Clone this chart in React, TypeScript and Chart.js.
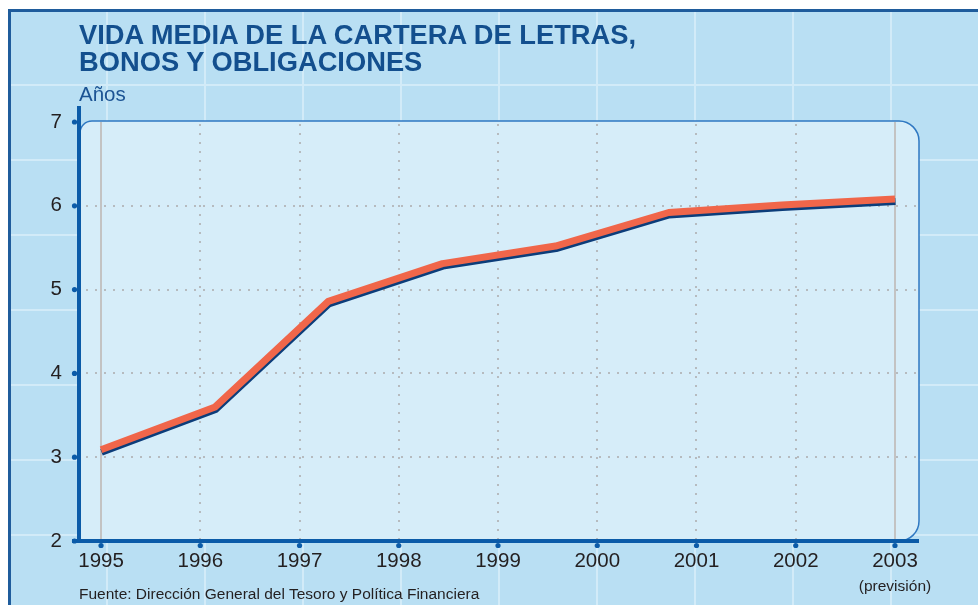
import React, { useEffect, useRef } from "react";
import { Chart, registerables } from "chart.js";

Chart.register(...registerables);

// ---- Data ----
const yearTicks = [1995, 1996, 1997, 1998, 1999, 2000, 2001, 2002, 2003];
const valueTicks = [2, 3, 4, 5, 6, 7];
const pointYears = [1995, 1996.15, 1997.29, 1998.44, 1999.58, 2000.72, 2001.86, 2003];
const averageLife = [3.09, 3.6, 4.86, 5.31, 5.52, 5.92, 6.01, 6.08];
const titleLines = ["VIDA MEDIA DE LA CARTERA DE LETRAS,", "BONOS Y OBLIGACIONES"];
const unitLabel = "Años";
const forecastYear = 2003;
const forecastNote = "(previsión)";
const sourceNote = "Fuente: Dirección General del Tesoro y Política Financiera";

const FONT = '"Liberation Sans", Arial, Helvetica, sans-serif';
const W = 978;
const H = 605;
const X_AXIS_H = 40;

const backgroundPlugin = {
  id: "backgroundPanel",
  beforeDraw(chart: any) {
    const { ctx, chartArea: ca, scales } = chart;
    ctx.save();
    ctx.fillStyle = "#ffffff";
    ctx.fillRect(0, 0, W, H);
    ctx.fillStyle = "#b9dff3";
    ctx.fillRect(8, 9, W - 8, H - 9);
    // tile lines
    ctx.strokeStyle = "#d2ebf8";
    ctx.lineWidth = 2;
    for (let x = 107; x < W; x += 98) {
      ctx.beginPath();
      ctx.moveTo(x, 11);
      ctx.lineTo(x, H);
      ctx.stroke();
    }
    for (let y = 85; y < H; y += 75) {
      ctx.beginPath();
      ctx.moveTo(10, y);
      ctx.lineTo(W, y);
      ctx.stroke();
    }
    // frame border
    ctx.strokeStyle = "#1f5c9c";
    ctx.lineWidth = 3;
    ctx.beginPath();
    ctx.moveTo(9.5, H);
    ctx.lineTo(9.5, 10.5);
    ctx.lineTo(W, 10.5);
    ctx.stroke();

    // rounded panel
    const l = ca.left, r = ca.right, t = ca.top - 1, b = ca.bottom;
    const rTL = 12, rR = 20;
    ctx.beginPath();
    ctx.moveTo(l, b);
    ctx.lineTo(l, t + rTL);
    ctx.arcTo(l, t, l + rTL, t, rTL);
    ctx.lineTo(r - rR, t);
    ctx.arcTo(r, t, r, t + rR, rR);
    ctx.lineTo(r, b - rR);
    ctx.arcTo(r, b, r - rR, b, rR);
    ctx.closePath();
    ctx.fillStyle = "#d6edf9";
    ctx.fill();
    ctx.strokeStyle = "#2f78c2";
    ctx.lineWidth = 1.5;
    ctx.stroke();

    // grid lines
    const xs = scales.x, ys = scales.y;
    ctx.strokeStyle = "#b6bbbf";
    ctx.lineWidth = 2;
    ctx.setLineDash([2, 7]);
    valueTicks.forEach((v) => {
      if (v === valueTicks[0] || v === valueTicks[valueTicks.length - 1]) return;
      const y = Math.round(ys.getPixelForValue(v));
      ctx.beginPath();
      ctx.moveTo(l + 6, y);
      ctx.lineTo(r, y);
      ctx.stroke();
    });
    yearTicks.forEach((v, i) => {
      if (i === 0 || i === yearTicks.length - 1) return;
      const x = Math.round(xs.getPixelForValue(v));
      ctx.beginPath();
      ctx.moveTo(x, t + 3);
      ctx.lineTo(x, b);
      ctx.stroke();
    });
    ctx.setLineDash([]);
    ctx.strokeStyle = "#c3c3c3";
    ctx.lineWidth = 2;
    [yearTicks[0], yearTicks[yearTicks.length - 1]].forEach((v) => {
      const x = Math.round(xs.getPixelForValue(v));
      ctx.beginPath();
      ctx.moveTo(x, t + 1);
      ctx.lineTo(x, b);
      ctx.stroke();
    });
    ctx.restore();
  },
  beforeDatasetsDraw(chart: any) {
    const ctx = chart.ctx;
    ctx.save();
    ctx.shadowColor = "#0c3d7a";
    ctx.shadowOffsetX = 0.5;
    ctx.shadowOffsetY = 2.5;
    ctx.shadowBlur = 0;
  },
  afterDatasetsDraw(chart: any) {
    const { ctx, chartArea: ca, scales } = chart;
    ctx.restore();
    ctx.save();
    const axisColor = "#0b5ba8";
    ctx.strokeStyle = axisColor;
    ctx.fillStyle = axisColor;
    ctx.lineWidth = 4;
    ctx.beginPath();
    ctx.moveTo(ca.left - 1, 106);
    ctx.lineTo(ca.left - 1, ca.bottom + 2);
    ctx.stroke();
    ctx.beginPath();
    ctx.moveTo(72, ca.bottom);
    ctx.lineTo(ca.right, ca.bottom);
    ctx.stroke();
    valueTicks.forEach((v) => {
      const y = scales.y.getPixelForValue(v);
      ctx.beginPath();
      ctx.arc(ca.left - 5.5, y, 2.6, 0, Math.PI * 2);
      ctx.fill();
    });
    yearTicks.forEach((v) => {
      const x = scales.x.getPixelForValue(v);
      ctx.beginPath();
      ctx.arc(x, ca.bottom + 4.5, 2.6, 0, Math.PI * 2);
      ctx.fill();
    });
    ctx.restore();
  },
  afterDraw(chart: any) {
    const { ctx, scales } = chart;
    ctx.save();
    ctx.fillStyle = "#231f20";
    ctx.font = `15.5px ${FONT}`;
    ctx.textAlign = "center";
    ctx.textBaseline = "alphabetic";
    ctx.fillText(forecastNote, scales.x.getPixelForValue(forecastYear), 591);
    ctx.restore();
  },
};

export default function App() {
  const canvasRef = useRef<HTMLCanvasElement | null>(null);

  useEffect(() => {
    if (!canvasRef.current) return;
    const chart = new Chart(canvasRef.current, {
      type: "line",
      data: {
        datasets: [
          {
            label: "Vida media",
            data: pointYears.map((x, i) => ({ x, y: averageLife[i] })),
            borderColor: "#f0664a",
            borderWidth: 7,
            pointRadius: 0,
            tension: 0,
            borderCapStyle: "butt",
            borderJoinStyle: "round",
            clip: false as any,
          },
        ],
      },
      options: {
        responsive: false,
        animation: false,
        devicePixelRatio: 1,
        layout: { padding: { left: 0, top: 122, right: W - 919, bottom: H - 541 - X_AXIS_H } },
        plugins: { legend: { display: false }, tooltip: { enabled: false }, title: { display: false } },
        scales: {
          x: {
            type: "linear",
            min: 1994.788,
            max: 2003.242,
            grid: { display: false, drawTicks: false },
            border: { display: false },
            afterBuildTicks: (s: any) => {
              s.ticks = yearTicks.map((v) => ({ value: v }));
            },
            afterFit: (s: any) => {
              s.height = X_AXIS_H;
            },
            ticks: {
              callback: (v: any) => String(v),
              color: "#231f20",
              font: { family: FONT, size: 20.5 },
              padding: 8,
              maxRotation: 0,
              autoSkip: false,
            },
          },
          y: {
            type: "linear",
            min: 2,
            max: 7,
            grid: { display: false, drawTicks: false },
            border: { display: false },
            afterBuildTicks: (s: any) => {
              s.ticks = valueTicks.map((v) => ({ value: v }));
            },
            afterFit: (s: any) => {
              s.width = 80;
            },
            ticks: {
              callback: (v: any) => String(v),
              color: "#231f20",
              font: { family: FONT, size: 20.5 },
              padding: 18,
            },
          },
        },
      },
      plugins: [backgroundPlugin],
    });
    return () => chart.destroy();
  }, []);

  return (
    <div style={{ position: "absolute", left: 0, top: 0, width: W, height: H, overflow: "hidden" }}>
      <canvas ref={canvasRef} width={W} height={H} style={{ position: "absolute", left: 0, top: 0, width: W, height: H }} />
      <div
        style={{
          position: "absolute",
          left: 79,
          top: 22,
          fontFamily: FONT,
          fontWeight: "bold",
          fontSize: 27.3,
          lineHeight: "26.6px",
          color: "#134f8e",
          whiteSpace: "nowrap",
        }}
      >
        {titleLines.map((t) => (
          <div key={t}>{t}</div>
        ))}
      </div>
      <div
        style={{
          position: "absolute",
          left: 79,
          top: 84,
          fontFamily: FONT,
          fontSize: 20.5,
          lineHeight: 1,
          color: "#1b5393",
          whiteSpace: "nowrap",
        }}
      >
        {unitLabel}
      </div>
      <div
        style={{
          position: "absolute",
          left: 79,
          top: 586,
          fontFamily: FONT,
          fontSize: 15.5,
          lineHeight: 1,
          color: "#231f20",
          whiteSpace: "nowrap",
        }}
      >
        {sourceNote}
      </div>
    </div>
  );
}
